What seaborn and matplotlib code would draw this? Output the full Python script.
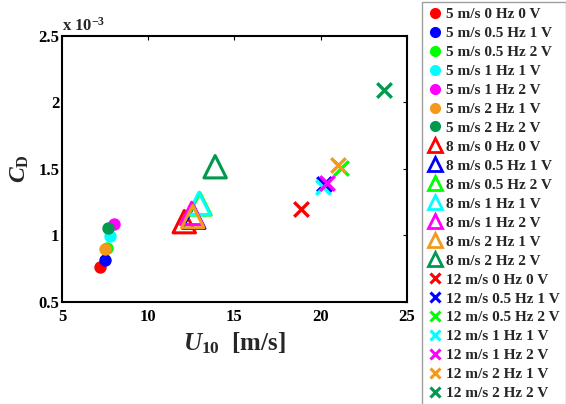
import matplotlib
matplotlib.use("Agg")
import matplotlib.pyplot as plt
from matplotlib.lines import Line2D
import seaborn as sns
import pandas as pd

sns.set_style("white")
plt.rcParams['font.family'] = ['Liberation Serif', 'DejaVu Serif']
plt.rcParams['font.weight'] = 'bold'
plt.rcParams['mathtext.fontset'] = 'custom'
plt.rcParams['mathtext.rm'] = 'Liberation Serif:bold'
plt.rcParams['mathtext.it'] = 'Liberation Serif:bold:italic'
plt.rcParams['mathtext.bf'] = 'Liberation Serif:bold'

labels = ["5 m/s 0 Hz 0 V", "5 m/s 0.5 Hz 1 V", "5 m/s 0.5 Hz 2 V", "5 m/s 1 Hz 1 V",
          "5 m/s 1 Hz 2 V", "5 m/s 2 Hz 1 V", "5 m/s 2 Hz 2 V",
          "8 m/s 0 Hz 0 V", "8 m/s 0.5 Hz 1 V", "8 m/s 0.5 Hz 2 V", "8 m/s 1 Hz 1 V",
          "8 m/s 1 Hz 2 V", "8 m/s 2 Hz 1 V", "8 m/s 2 Hz 2 V",
          "12 m/s 0 Hz 0 V", "12 m/s 0.5 Hz 1 V", "12 m/s 0.5 Hz 2 V", "12 m/s 1 Hz 1 V",
          "12 m/s 1 Hz 2 V", "12 m/s 2 Hz 1 V", "12 m/s 2 Hz 2 V"]
u10 = [7.21, 7.48, 7.63, 7.77, 8.04, 7.48, 7.69,
       12.09, 12.64, 13.00, 12.94, 12.52, 12.58, 13.88,
       18.84, 20.19, 21.16, 20.13, 20.37, 21.00, 23.66]
cd = [0.761, 0.816, 0.908, 0.995, 1.084, 0.895, 1.057,
      1.104, 1.137, 1.237, 1.241, 1.166, 1.142, 1.517,
      1.196, 1.388, 1.507, 1.363, 1.393, 1.530, 2.092]  # x 10^-3
groups = ["5"] * 7 + ["8"] * 7 + ["12"] * 7
colors = ["#ff0000", "#0000ff", "#00ff00", "#00ffff", "#ff00ff", "#f39a1c", "#00994d"] * 3

df = pd.DataFrame({"label": labels, "u10": u10, "cd": cd, "group": groups, "color": colors})

fig = plt.figure(figsize=(5.66, 4.04), dpi=100)
ax = fig.add_axes([0.1095, 0.2525, 0.6095, 0.6585])

handles = []
for _, r in df.iterrows():
    if r.group == "5":
        sns.scatterplot(x=[r.u10], y=[r.cd], ax=ax, marker="o", color=r.color,
                        s=80, linewidth=0)
        handles.append(Line2D([], [], ls="none", marker="o", ms=7, mfc=r.color,
                              mec=r.color, label=r.label))
    elif r.group == "8":
        sns.scatterplot(x=[r.u10], y=[r.cd], ax=ax, marker="^", facecolors="none",
                        edgecolors=r.color, s=260, linewidth=2.2)
        handles.append(Line2D([], [], ls="none", marker="^", ms=10, mfc="none",
                              mec=r.color, mew=2.0, label=r.label))
    else:
        sns.scatterplot(x=[r.u10], y=[r.cd], ax=ax, marker="x", color=r.color,
                        s=110, linewidth=2.4)
        handles.append(Line2D([], [], ls="none", marker="x", ms=7, mec=r.color,
                              mew=2.2, label=r.label))

ax.set_xlim(5, 25)
ax.set_ylim(0.5, 2.5)
ax.set_xticks([5, 10, 15, 20, 25])
ax.set_xticklabels(["5", "10", "15", "20", "25"])
ax.set_yticks([0.5, 1, 1.5, 2, 2.5])
ax.set_yticklabels(["0.5", "1", "1.5", "2", "2.5"])
ax.tick_params(direction="in", length=3, width=0.8, top=True, right=True,
               labelsize=12, colors="black")
ax.tick_params(axis="x", pad=5)
ax.tick_params(axis="y", pad=2)
for lab in ax.get_xticklabels() + ax.get_yticklabels():
    lab.set_fontweight("bold")
for sp in ax.spines.values():
    sp.set_linewidth(1.5)
    sp.set_color("black")

ax.set_xlabel(r"$U_{10}$  [m/s]", fontsize=18, fontweight="bold", labelpad=4)
ax.set_ylabel(r"$C_{\mathrm{D}}$", fontsize=17, fontweight="bold", labelpad=5)
ax.text(0.0, 1.005, r"x 10$^{-3}$", transform=ax.transAxes, fontsize=12,
        fontweight="bold", ha="left", va="bottom")

leg = fig.legend(handles=handles, loc="upper left", bbox_to_anchor=(422 / 566, 1.0 - 2 / 404),
                 frameon=True, handletextpad=0.25, labelspacing=0.345,
                 borderpad=0.35, handlelength=1.0, borderaxespad=0,
                 prop={"weight": "bold", "size": 11})
leg.get_frame().set_edgecolor("#888888")
leg.get_frame().set_linewidth(1.0)
leg.get_frame().set_boxstyle("square", pad=0)

fig.savefig("out.png", dpi=100)
